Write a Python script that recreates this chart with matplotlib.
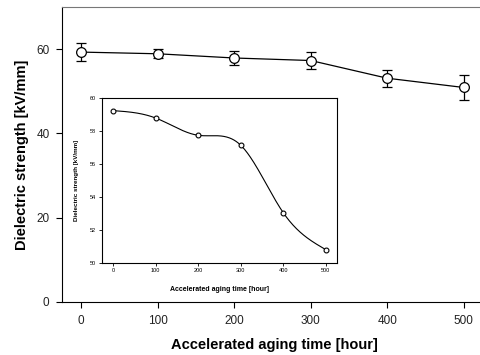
import numpy as np
import matplotlib
matplotlib.use("Agg")
import matplotlib.pyplot as plt

plt.rcParams['font.family'] = ['Liberation Sans', 'DejaVu Sans']

hours = [0, 100, 200, 300, 400, 500]
strength = [59.3, 58.9, 57.9, 57.3, 53.1, 50.9]
strength_err = [2.1, 1.1, 1.6, 2.0, 2.0, 3.0]
inset_strength = [59.25, 58.8, 57.75, 57.15, 53.05, 50.8]


def natural_spline(x, y, xs):
    # natural cubic spline through the points
    x = np.asarray(x, float)
    y = np.asarray(y, float)
    n = len(x)
    h = np.diff(x)
    A = np.zeros((n, n))
    b = np.zeros(n)
    A[0, 0] = A[-1, -1] = 1
    for i in range(1, n - 1):
        A[i, i - 1] = h[i - 1]
        A[i, i] = 2 * (h[i - 1] + h[i])
        A[i, i + 1] = h[i]
        b[i] = 3 * ((y[i + 1] - y[i]) / h[i] - (y[i] - y[i - 1]) / h[i - 1])
    c = np.linalg.solve(A, b)
    out = np.empty_like(xs)
    for k, xv in enumerate(xs):
        i = min(np.searchsorted(x, xv, side='right') - 1, n - 2)
        i = max(i, 0)
        d = (c[i + 1] - c[i]) / (3 * h[i])
        bb = (y[i + 1] - y[i]) / h[i] - h[i] * (2 * c[i] + c[i + 1]) / 3
        t = xv - x[i]
        out[k] = y[i] + bb * t + c[i] * t ** 2 + d * t ** 3
    return out


fig = plt.figure(figsize=(4.81, 3.55), dpi=100)
ax = fig.add_axes([62 / 481, 1 - 302 / 355, 424 / 481, 295 / 355])

ax.errorbar(hours, strength, yerr=strength_err, color='black', lw=0.9,
            marker='o', ms=7, mfc='white', mec='black', mew=0.9,
            capsize=3.5, elinewidth=0.9, capthick=0.9)
ax.set_xlim(-25, 529)
ax.set_ylim(0, 70)
ax.set_xticks(hours)
ax.set_yticks([0, 20, 40, 60])
ax.spines['right'].set_visible(False)
ax.spines['top'].set_color('#777777')
ax.tick_params(direction='out', length=4, width=0.8, labelsize=8.5,
               colors='black', labelcolor='#222222', pad=5)
ax.set_xlabel('Accelerated aging time [hour]', fontsize=10.5,
              fontweight='bold', labelpad=8)
ax.set_ylabel('Dielectric strength [kV/mm]', fontsize=10.5,
              fontweight='bold', labelpad=5)

# inset with the smoothed curve
ins = fig.add_axes([101.7 / 481, 1 - 262.7 / 355, 235 / 481, 164.4 / 355])
xs = np.linspace(0, 500, 300)
ins.plot(xs, natural_spline(hours, inset_strength, xs), color='black', lw=0.8)
ins.plot(hours, inset_strength, 'o', ms=3.5, mfc='white', mec='black', mew=0.8)
ins.set_xlim(-27, 526)
ins.set_ylim(50, 60)
ins.set_xticks(hours)
ins.set_yticks([50, 52, 54, 56, 58, 60])
ins.tick_params(direction='out', length=2, width=0.6, labelsize=4, pad=2)
for s in ins.spines.values():
    s.set_linewidth(0.8)
ins.set_xlabel('Accelerated aging time [hour]', fontsize=5, fontweight='bold',
               labelpad=9)
ins.set_ylabel('Dielectric strength [kV/mm]', fontsize=4.5, fontweight='bold',
               labelpad=8)

fig.savefig('out.png', dpi=100)
